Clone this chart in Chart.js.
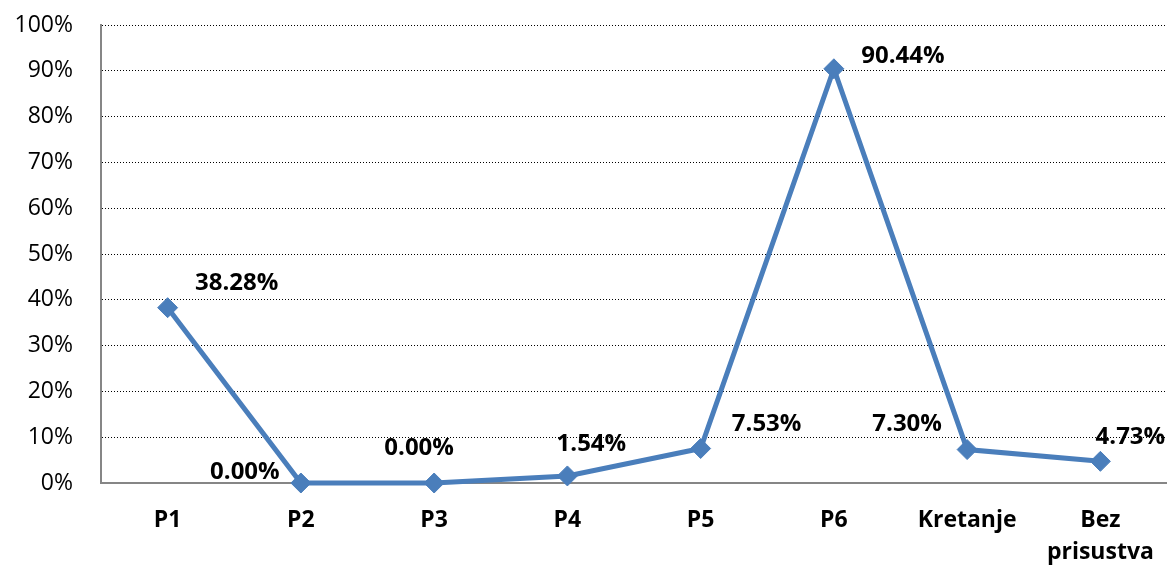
<!DOCTYPE html>
<html>
<head>
<meta charset="utf-8">
<script src="https://cdn.jsdelivr.net/npm/chart.js@4"></script>
<style>
  html, body { margin: 0; padding: 0; background: #fff; }
  #wrap { width: 1167px; height: 565px; position: relative; }
</style>
</head>
<body>
<div id="wrap"><canvas id="chart"></canvas></div>
<script>
const categories = ['P1', 'P2', 'P3', 'P4', 'P5', 'P6', 'Kretanje', ['Bez', 'prisustva']];
const shares = [38.28, 0.00, 0.00, 1.54, 7.53, 90.44, 7.30, 4.73];
const yTicks = [0, 10, 20, 30, 40, 50, 60, 70, 80, 90, 100];

// where each value label sits, relative to its point (px) - hand placed like the original
const labelShift = [[69, -25], [-56, -11], [-15, -35], [24, -32], [66, -24], [69, -13], [-60, -25], [30, -24]];

const blue = '#4A7EBB';
const font = "'Open Sans', sans-serif";

const valueLabels = {
  id: 'valueLabels',
  afterDatasetsDraw(chart) {
    const ctx = chart.ctx;
    const pts = chart.getDatasetMeta(0).data;
    ctx.save();
    ctx.font = 'bold 24px ' + font;
    ctx.fillStyle = '#000';
    ctx.textAlign = 'center';
    ctx.textBaseline = 'middle';
    pts.forEach((p, i) => {
      const [dx, dy] = labelShift[i];
      ctx.fillText(shares[i].toFixed(2) + '%', p.x + dx, p.y + dy);
    });
    ctx.restore();
  }
};

new Chart(document.getElementById('chart'), {
  type: 'line',
  data: {
    labels: categories,
    datasets: [{
      data: shares,
      borderColor: blue,
      backgroundColor: blue,
      borderWidth: 5,
      pointStyle: 'rectRot',
      pointRadius: 10,
      pointBorderWidth: 1,
      pointBackgroundColor: blue,
      pointBorderColor: blue,
      tension: 0,
      clip: false
    }]
  },
  options: {
    responsive: true,
    maintainAspectRatio: false,
    animation: false,
    layout: { autoPadding: false, padding: { top: 25, right: 0, left: 0, bottom: 0 } },
    plugins: { legend: { display: false }, tooltip: { enabled: false } },
    scales: {
      x: {
        offset: true,
        grid: { display: false, drawTicks: false },
        border: { color: '#868686', width: 2 },
        ticks: {
          color: '#000',
          padding: 21,
          maxRotation: 0,
          autoSkip: false,
          font: { family: font, size: 23, weight: 'bold', lineHeight: 1.4 }
        },
        afterFit: s => { s.height = 82; s.paddingLeft = 0; s.paddingRight = 0; }
      },
      y: {
        min: 0,
        max: 100,
        afterBuildTicks: s => { s.ticks = yTicks.map(v => ({ value: v })); },
        grid: { color: '#000', lineWidth: 1, drawTicks: false },
        border: { color: '#868686', width: 2, dash: [1, 2] },
        ticks: {
          color: '#000',
          padding: 28,
          font: { family: font, size: 23 },
          callback: v => v + '%'
        },
        afterFit: s => { s.width = 101; s.paddingTop = 0; s.paddingBottom = 0; }
      }
    }
  },
  plugins: [valueLabels]
});
</script>
</body>
</html>
